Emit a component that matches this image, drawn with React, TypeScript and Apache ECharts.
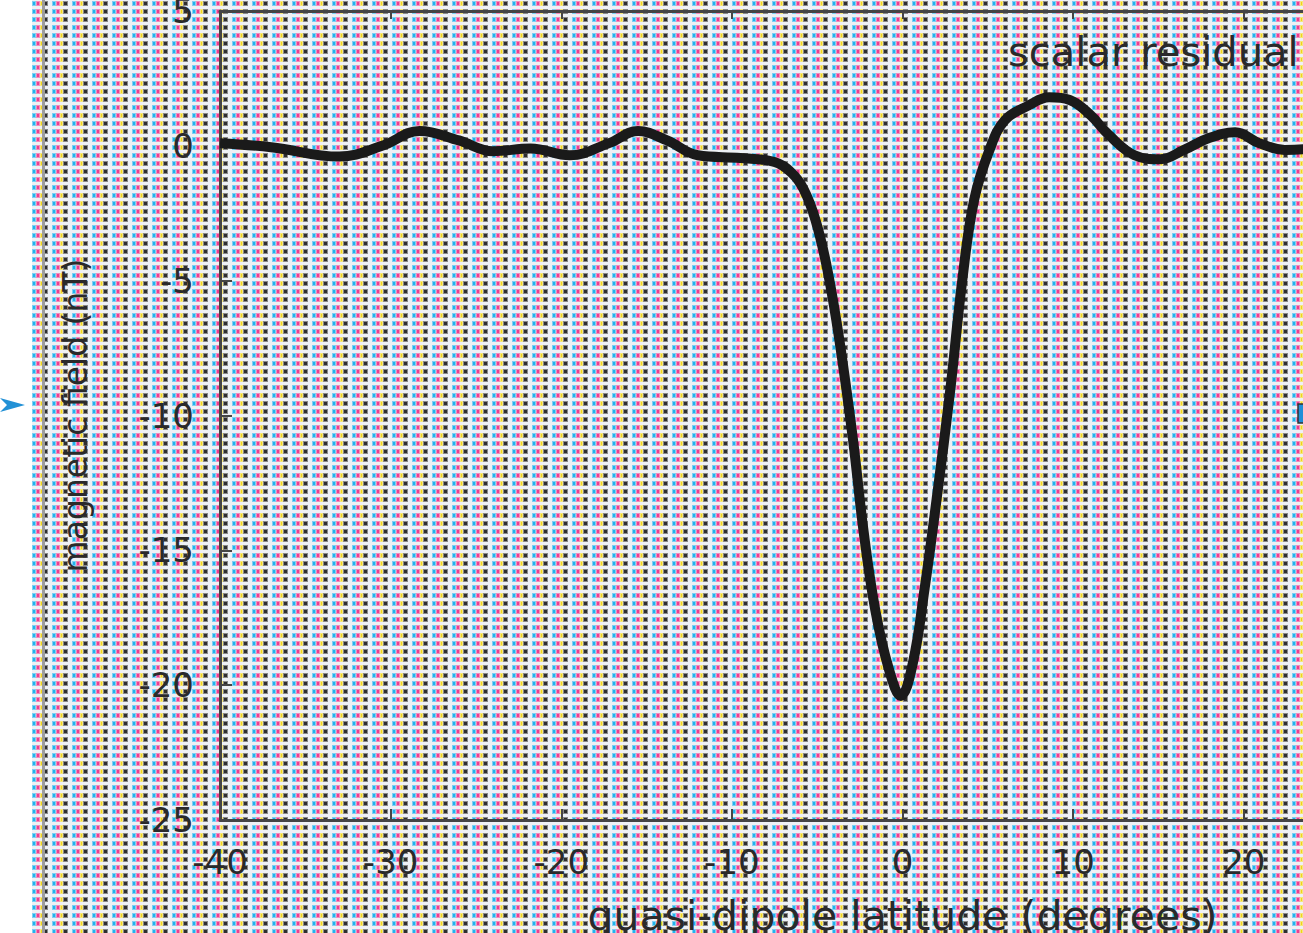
import React, { useEffect, useRef } from "react";
import * as echarts from "echarts";

// quasi-dipole latitude (degrees)
const latitude = [
  -40, -37, -33, -30.5, -28.3, -26, -24, -21.8, -19.5, -17.2, -15.5, -13.8, -12, -9.5, -7.5,
  -6.5, -5.8, -5.1, -4.4, -3.7, -2.9, -2.3, -1.6, -0.8, -0.1, 0.6, 1.3, 2.0, 2.8, 3.5, 4.2,
  5.1, 6.0, 7.4, 8.6, 9.8, 11.0, 12.1, 13.6, 15.1, 16.5, 18.0, 19.5, 20.9, 22.4, 24, 26,
];
// scalar residual (nT)
const residual = [
  0.1, -0.05, -0.4, 0.0, 0.55, 0.2, -0.2, -0.1, -0.35, 0.1, 0.55, 0.2, -0.35, -0.45, -0.6,
  -1.0, -1.6, -2.75, -4.6, -7.2, -10.9, -14.2, -17.2, -19.4, -20.4, -19.2, -16.4, -13.1, -9.05, -5.0, -2.0,
  -0.15, 0.95, 1.5, 1.8, 1.7, 1.15, 0.4, -0.35, -0.5, -0.15, 0.3, 0.5, 0.1, -0.15, -0.1, 0.2,
];

const xTicks = { min: -40, max: 40, interval: 10 };
const yTicks = { min: -25, max: 5, interval: 5 };

const seriesName = "scalar residual";
const xName = "quasi-dipole latitude (degrees)";
const yName = "magnetic field (nT)";

function makePattern(): string {
  const c = document.createElement("canvas");
  c.width = 20;
  c.height = 8;
  const g = c.getContext("2d");
  if (!g) return "";
  g.fillStyle = "#eef1f5";
  g.fillRect(0, 0, 20, 8);
  const cells: [string, string, number, number][] = [
    ["#7fd0f3", "#22b2ec", 0, 4],
    ["#f38cbc", "#e8408e", 4, 4],
    ["#f6e77a", "#f0d21a", 8, 3],
    ["#8a8a8a", "#2e2e2e", 11, 5],
  ];
  for (const [light, dark, x, w] of cells) {
    g.fillStyle = light;
    g.fillRect(x, 0, w, 5);
    g.fillStyle = dark;
    g.fillRect(x + 1, 1, Math.max(1, w - 2), 3);
  }
  return c.toDataURL();
}

export default function App() {
  const chartRef = useRef<HTMLDivElement>(null);
  const bgRef = useRef<HTMLDivElement>(null);

  useEffect(() => {
    if (bgRef.current) {
      bgRef.current.style.backgroundImage = `url(${makePattern()})`;
    }
    if (!chartRef.current) return;
    const chart = echarts.init(chartRef.current, undefined, { renderer: "svg" });
    const data = latitude.map((x, i) => [x, residual[i]]);
    const font = "DejaVu Sans";
    const textColor = "#2a2a2a";
    const axisColor = "#454545";
    chart.setOption({
      animation: false,
      backgroundColor: "transparent",
      textStyle: { fontFamily: font },
      grid: {
        left: 220,
        top: 11,
        width: 1365,
        height: 809,
        containLabel: false,
        outerBoundsMode: "none",
      },
      legend: {
        left: 1003,
        top: 25,
        align: "right",
        itemWidth: 90,
        itemHeight: 10,
        textStyle: { fontFamily: font, fontSize: 40, color: textColor, lineHeight: 44 },
        data: [seriesName],
      },
      xAxis: [
        {
          type: "value",
          min: xTicks.min,
          max: xTicks.max,
          interval: xTicks.interval,
          name: xName,
          nameLocation: "middle",
          nameGap: 75,
          nameTextStyle: { fontFamily: font, fontSize: 41, color: textColor },
          axisLine: { show: true, onZero: false, lineStyle: { color: axisColor, width: 3 } },
          axisTick: { show: true, inside: true, length: 11, lineStyle: { color: axisColor, width: 2 } },
          axisLabel: {
            fontFamily: font,
            fontSize: 34,
            color: textColor,
            margin: 25,
            formatter: (v: number) => (v > 25 ? "" : String(v)),
          },
          splitLine: { show: false },
        },
        {
          type: "value",
          position: "top",
          min: xTicks.min,
          max: xTicks.max,
          interval: xTicks.interval,
          axisLine: { show: true, onZero: false, lineStyle: { color: axisColor, width: 3 } },
          axisTick: { show: true, inside: true, length: 8, lineStyle: { color: axisColor, width: 2 } },
          axisLabel: { show: false },
          splitLine: { show: false },
        },
      ],
      yAxis: {
        type: "value",
        min: yTicks.min,
        max: yTicks.max,
        interval: yTicks.interval,
        name: yName,
        nameLocation: "middle",
        nameGap: 128,
        nameTextStyle: { fontFamily: font, fontSize: 33, color: textColor },
        axisLine: { show: true, onZero: false, lineStyle: { color: axisColor, width: 3 } },
        axisTick: { show: true, inside: true, length: 12, lineStyle: { color: axisColor, width: 2 } },
        axisLabel: { fontFamily: font, fontSize: 34, color: textColor, margin: 26 },
        splitLine: { show: false },
      },
      graphic: [
        {
          type: "polygon",
          shape: { points: [[0, 398], [25, 405], [0, 412], [7, 405]] },
          style: { fill: "#2391d6" },
        },
        {
          type: "rect",
          shape: { x: 1298, y: 404, width: 12, height: 19 },
          style: { fill: "#1f8fd8", stroke: "#333", lineWidth: 1.5 },
        },
      ],
      series: [
        {
          name: seriesName,
          type: "line",
          data,
          smooth: 0.4,
          showSymbol: false,
          symbol: "none",
          lineStyle: { color: "#1a1a1a", width: 10 },
          itemStyle: { color: "#1a1a1a" },
          z: 3,
        },
      ],
    });
    return () => chart.dispose();
  }, []);

  return (
    <div
      style={{
        position: "absolute",
        left: 0,
        top: 0,
        width: 1303,
        height: 933,
        overflow: "hidden",
        background: "#ffffff",
      }}
    >
      <div
        ref={bgRef}
        style={{
          position: "absolute",
          left: 32,
          top: 0,
          right: 0,
          bottom: 0,
          backgroundRepeat: "repeat",
          backgroundPosition: "0px 1px",
        }}
      />
      <div style={{ position: "absolute", left: 42, top: 0, width: 3, height: 933, background: "#9c9c9c" }} />
      <div ref={chartRef} style={{ position: "absolute", left: 0, top: 0, width: 1700, height: 933 }} />
    </div>
  );
}
